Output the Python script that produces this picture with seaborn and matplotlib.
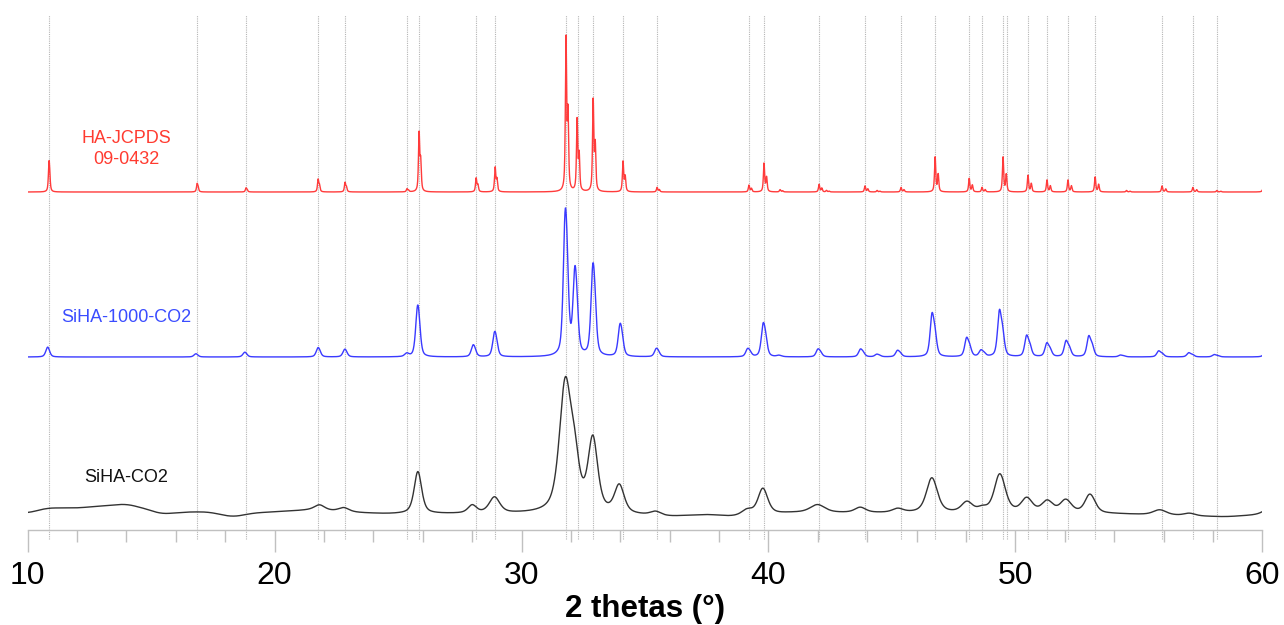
import matplotlib.pyplot as plt
import numpy as np
import pandas as pd
import seaborn as sns

# reference lines (HA JCPDS 09-0432), 2theta in degrees
ref_lines = [10.86, 16.86, 18.84, 21.76, 22.85, 25.36, 25.85, 28.16, 28.93,
             31.80, 32.29, 32.90, 34.11, 35.49, 39.21, 39.82, 42.05, 43.91,
             45.37, 46.75, 48.13, 48.65, 49.50, 49.66, 50.51, 51.28, 52.13,
             53.23, 55.94, 57.19, 58.16]

# HA-JCPDS peaks: position, relative intensity (%)
red_pos = [10.86, 16.86, 18.84, 21.76, 22.85, 25.36, 25.85, 28.16, 28.93,
           31.80, 32.25, 32.90, 34.11, 35.49, 39.21, 39.82, 40.47, 42.05,
           42.35, 43.91, 44.40, 45.37, 46.75, 48.13, 48.65, 49.50, 50.51,
           51.28, 52.13, 53.23, 54.50, 55.94, 57.19, 58.16, 60.05]
red_int = [16, 5, 2.5, 8, 6, 2, 38, 9, 16,
           100, 47, 60, 20, 3, 4.5, 19, 1.5, 5,
           1, 4, 1, 3, 23, 9, 3, 23, 11,
           8, 8, 10, 1, 4, 3, 1, 6]

# SiHA-1000-CO2 peaks
blue_pos = [10.80, 16.80, 18.78, 21.75, 22.83, 25.33, 25.78, 28.03, 28.90,
            31.76, 32.15, 32.88, 33.98, 35.45, 39.15, 39.78, 40.40, 42.00,
            43.72, 44.38, 45.22, 46.62, 48.02, 48.60, 49.35, 50.45, 51.27,
            52.05, 52.97, 54.25, 55.80, 57.02, 58.05, 60.15]
blue_int = [6, 2, 3, 6, 5, 2, 34, 8, 17,
            100, 59, 64, 23, 6, 6, 25, 1, 6,
            6, 2, 5, 34, 15, 5, 37, 17, 11,
            13, 17, 1.5, 5, 3.5, 2, 6]

# SiHA-CO2 peaks (broad)
black_pos = [21.80, 22.78, 25.78, 27.98, 28.88, 31.74, 32.12, 32.86, 33.93,
             35.40, 39.10, 39.74, 41.95, 43.68, 45.20, 46.58, 48.00, 48.62,
             49.33, 50.42, 51.25, 52.00, 52.98, 55.80, 57.00, 60.30]
black_int = [4, 3, 32, 6, 12, 95, 32, 55, 21,
             3, 4, 20, 6, 4, 3, 27, 8, 3,
             30, 11, 9, 10, 15, 4, 2, 6]
black_fwhm = [0.5, 0.5, 0.35, 0.4, 0.5, 0.55, 0.45, 0.45, 0.45,
              0.5, 0.5, 0.45, 0.7, 0.5, 0.5, 0.5, 0.5, 0.4,
              0.5, 0.5, 0.5, 0.5, 0.45, 0.6, 0.5, 0.6]

# SiHA-CO2 background (2theta, offset)
black_bg_x = [10, 10.8, 12.0, 13.0, 14.0, 14.8, 15.4, 16.5, 17.3, 18.3, 19.2,
              20.0, 21.5, 23.5, 24.5, 30, 34, 36, 37.5, 38.5, 41, 44, 54,
              58.5, 60]
black_bg_y = [0, 5, 5, 7, 9, 4, -1, 1, 1, -4, 0, 1, 3, 0, -1, -1, -2, -4, -2,
              -4, 0, 0, -1, -4, -2]

labels = ["HA-JCPDS\n09-0432", "SiHA-1000-CO2", "SiHA-CO2"]


def pseudo_voigt(x, pos, inten, fwhm, eta):
    y = np.zeros_like(x)
    for p, h, w in zip(pos, inten, fwhm):
        # Ka1 + Ka2 doublet
        shift = 2 * np.tan(np.radians(p / 2)) * 0.00248 * 180 / np.pi
        for c, f in ((p, 1.0), (p + shift, 0.5)):
            lor = 1 / (1 + ((x - c) / (w / 2)) ** 2)
            gau = np.exp(-4 * np.log(2) * ((x - c) / w) ** 2)
            y += h * f * (eta * lor + (1 - eta) * gau)
    return y


x = np.linspace(10, 60, 6001)
red = pseudo_voigt(x, red_pos, red_int, [0.06] * len(red_pos), 0.7)
blue = pseudo_voigt(x, blue_pos, blue_int, [0.18] * len(blue_pos), 0.5)
black = pseudo_voigt(x, black_pos, black_int, black_fwhm, 0.6)

# smooth the background a bit
bg = np.interp(x, black_bg_x, black_bg_y)
win = 81
bg = np.convolve(np.pad(bg, win // 2, mode="edge"), np.ones(win) / win, mode="valid")

df = pd.DataFrame({
    "two_theta": x,
    "red": 338 + 157 * red / red.max(),
    "blue": 173 + 149 * blue / blue.max(),
    "black": 17 + 138 * black / black.max() + bg,
})

sns.set_theme(style="white")
plt.rcParams["font.family"] = ["Liberation Sans", "DejaVu Sans"]

fig = plt.figure(figsize=(12.84, 6.25), dpi=100)
ax = fig.add_axes([0.0216, 0.152, 0.9615, 0.824])

ax.vlines(ref_lines, -9, 515, colors="#b5b5b5", linestyles=(0, (1, 1)),
          linewidth=0.8, clip_on=False, zorder=0)

sns.lineplot(data=df, x="two_theta", y="red", ax=ax, color="#ff3b3b",
             linewidth=1.0, estimator=None, sort=False)
sns.lineplot(data=df, x="two_theta", y="blue", ax=ax, color="#3a3aff",
             linewidth=1.0, estimator=None, sort=False)
sns.lineplot(data=df, x="two_theta", y="black", ax=ax, color="#333333",
             linewidth=1.0, estimator=None, sort=False)

ax.text(14.0, 381, labels[0], color="#ff3b30", fontsize=13, ha="center",
        va="center", linespacing=1.25)
ax.text(14.0, 212, labels[1], color="#3a4cff", fontsize=13, ha="center", va="center")
ax.text(14.0, 52, labels[2], color="#111111", fontsize=13, ha="center", va="center")

ax.set_xlim(10, 60)
ax.set_ylim(0, 515)
ax.set_xticks(range(10, 61, 10))
ax.set_xticks(range(12, 60, 2), minor=True)
ax.set_yticks([])
ax.tick_params(axis="x", which="major", length=15.5, width=1, color="#c0c0c0",
               labelsize=23, labelcolor="black", pad=7, bottom=True)
ax.tick_params(axis="x", which="minor", length=8.6, width=1, color="#c0c0c0",
               bottom=True)
for s in ["top", "left", "right"]:
    ax.spines[s].set_visible(False)
ax.spines["bottom"].set_color("#c0c0c0")
ax.spines["bottom"].set_linewidth(1)
ax.set_xlabel("2 thetas (°)", fontsize=22.5, fontweight="bold", color="black",
              labelpad=2)
ax.set_ylabel("")

fig.savefig("out.png", dpi=100)
